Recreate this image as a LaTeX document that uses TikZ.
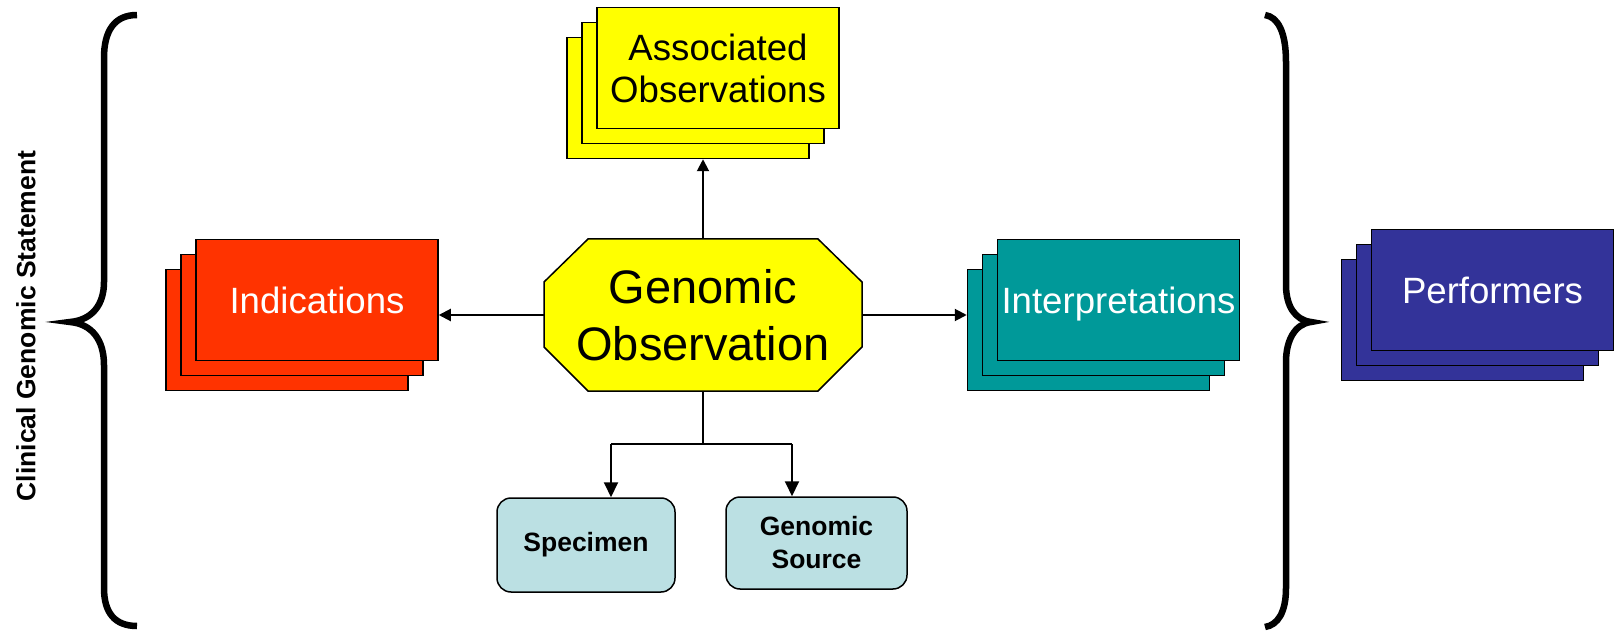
\documentclass[tikz,border=0pt]{standalone}
\usepackage{fontspec}
\setmainfont{Liberation Sans}
\usetikzlibrary{arrows.meta}
\definecolor{cyel}{HTML}{FFFF00}
\definecolor{cred}{HTML}{FF3300}
\definecolor{cteal}{HTML}{009999}
\definecolor{cnavy}{HTML}{333399}
\definecolor{cblue}{HTML}{BBE0E3}
\begin{document}
\begin{tikzpicture}[x=1pt,y=-1pt,
  card/.style={draw=black, line width=1.5pt, minimum width=242pt, minimum height=121pt, inner sep=0pt, anchor=center},
  bigtext/.style={font=\fontsize{36.6}{42}\selectfont, align=center},
  oneline/.style={text height=26.5pt, text depth=0pt},
  conn/.style={line width=2pt},
  arr/.style={conn, -{Triangle[length=12pt,width=12pt]}},
  downarr/.style={conn, -{Triangle[length=15pt,width=14pt]}},
  bracestyle/.style={line width=6.5pt},
  leaf/.style={draw=black, line width=1.5pt, rounded corners=14pt, fill=cblue, font=\bfseries\fontsize{26.5}{33}\selectfont, align=center, inner sep=0pt}
]
\useasboundingbox (0,0) rectangle (1618,631);

% side label
\node[rotate=90, font=\bfseries\fontsize{26.5}{30}\selectfont] (cgs) at (26,326) {Clinical Genomic Statement};

% braces
\draw[bracestyle] (137,15) .. controls (115,15) and (104,30) .. (104,58) -- (104,282)
  .. controls (104,305) and (92,320) .. (70,322)
  .. controls (92,324) and (104,340) .. (104,365) -- (104,588)
  .. controls (104,613) and (115,626) .. (137,626);
\draw[bracestyle] (1265,15) .. controls (1278,17) and (1286,32) .. (1286,62) -- (1286,285)
  .. controls (1286,306) and (1295,320) .. (1311,322)
  .. controls (1295,324) and (1286,340) .. (1286,362) -- (1286,588)
  .. controls (1286,612) and (1278,625) .. (1265,627);

% Associated observations
\node[card, fill=cyel] (ao3) at (688,98) {};
\node[card, fill=cyel] (ao2) at (703,83) {};
\node[card, fill=cyel, bigtext] (ao1) at (718,68) {Associated\\Observations};

% Indications
\node[card, fill=cred] (ind3) at (287,330) {};
\node[card, fill=cred] (ind2) at (302,315) {};
\node[card, fill=cred, bigtext, oneline, text=white] (ind1) at (317,300) {Indications};

% Interpretations
\node[card, fill=cteal] (int3) at (1088.5,330) {};
\node[card, fill=cteal] (int2) at (1103.5,315) {};
\node[card, fill=cteal, bigtext, oneline, text=white] (int1) at (1118.5,300) {Interpretations};

% Performers
\node[card, fill=cnavy] (per3) at (1462.5,320) {};
\node[card, fill=cnavy] (per2) at (1477.5,305) {};
\node[card, fill=cnavy, bigtext, oneline, text=white] (per1) at (1492.5,290) {Performers};

% Genomic observation (octagon)
\draw[fill=cyel, line width=1.5pt] (588,239) -- (818,239) -- (862,282) -- (862,347)
  -- (818,391) -- (588,391) -- (544,347) -- (544,282) -- cycle;
\node[minimum width=318pt, minimum height=152pt, inner sep=0pt,
  font=\fontsize{47}{57}\selectfont, align=center] (go) at (703,315) {Genomic\\Observation};

% leaves
\node[leaf, minimum width=178pt, minimum height=94pt] (spec) at (586,545) {Specimen};
\node[leaf, minimum width=181pt, minimum height=92pt] (gs) at (816.5,543) {Genomic\\Source};

% connectors
\draw[arr] (go.north) -- (go.north |- ao3.south);
\draw[arr] (go.west) -- (go.west -| ind1.east);
\draw[arr] (go.east) -- (go.east -| int3.west);
\coordinate (sl) at (611,444);
\coordinate (sr) at (792,444);
\draw[conn] (go.south) -- (go.south |- sl);
\draw[conn] (sl) -- (sr);
\draw[downarr] (sl) -- (sl |- spec.north);
\draw[downarr] (sr) -- (sr |- gs.north);
\end{tikzpicture}
\end{document}
